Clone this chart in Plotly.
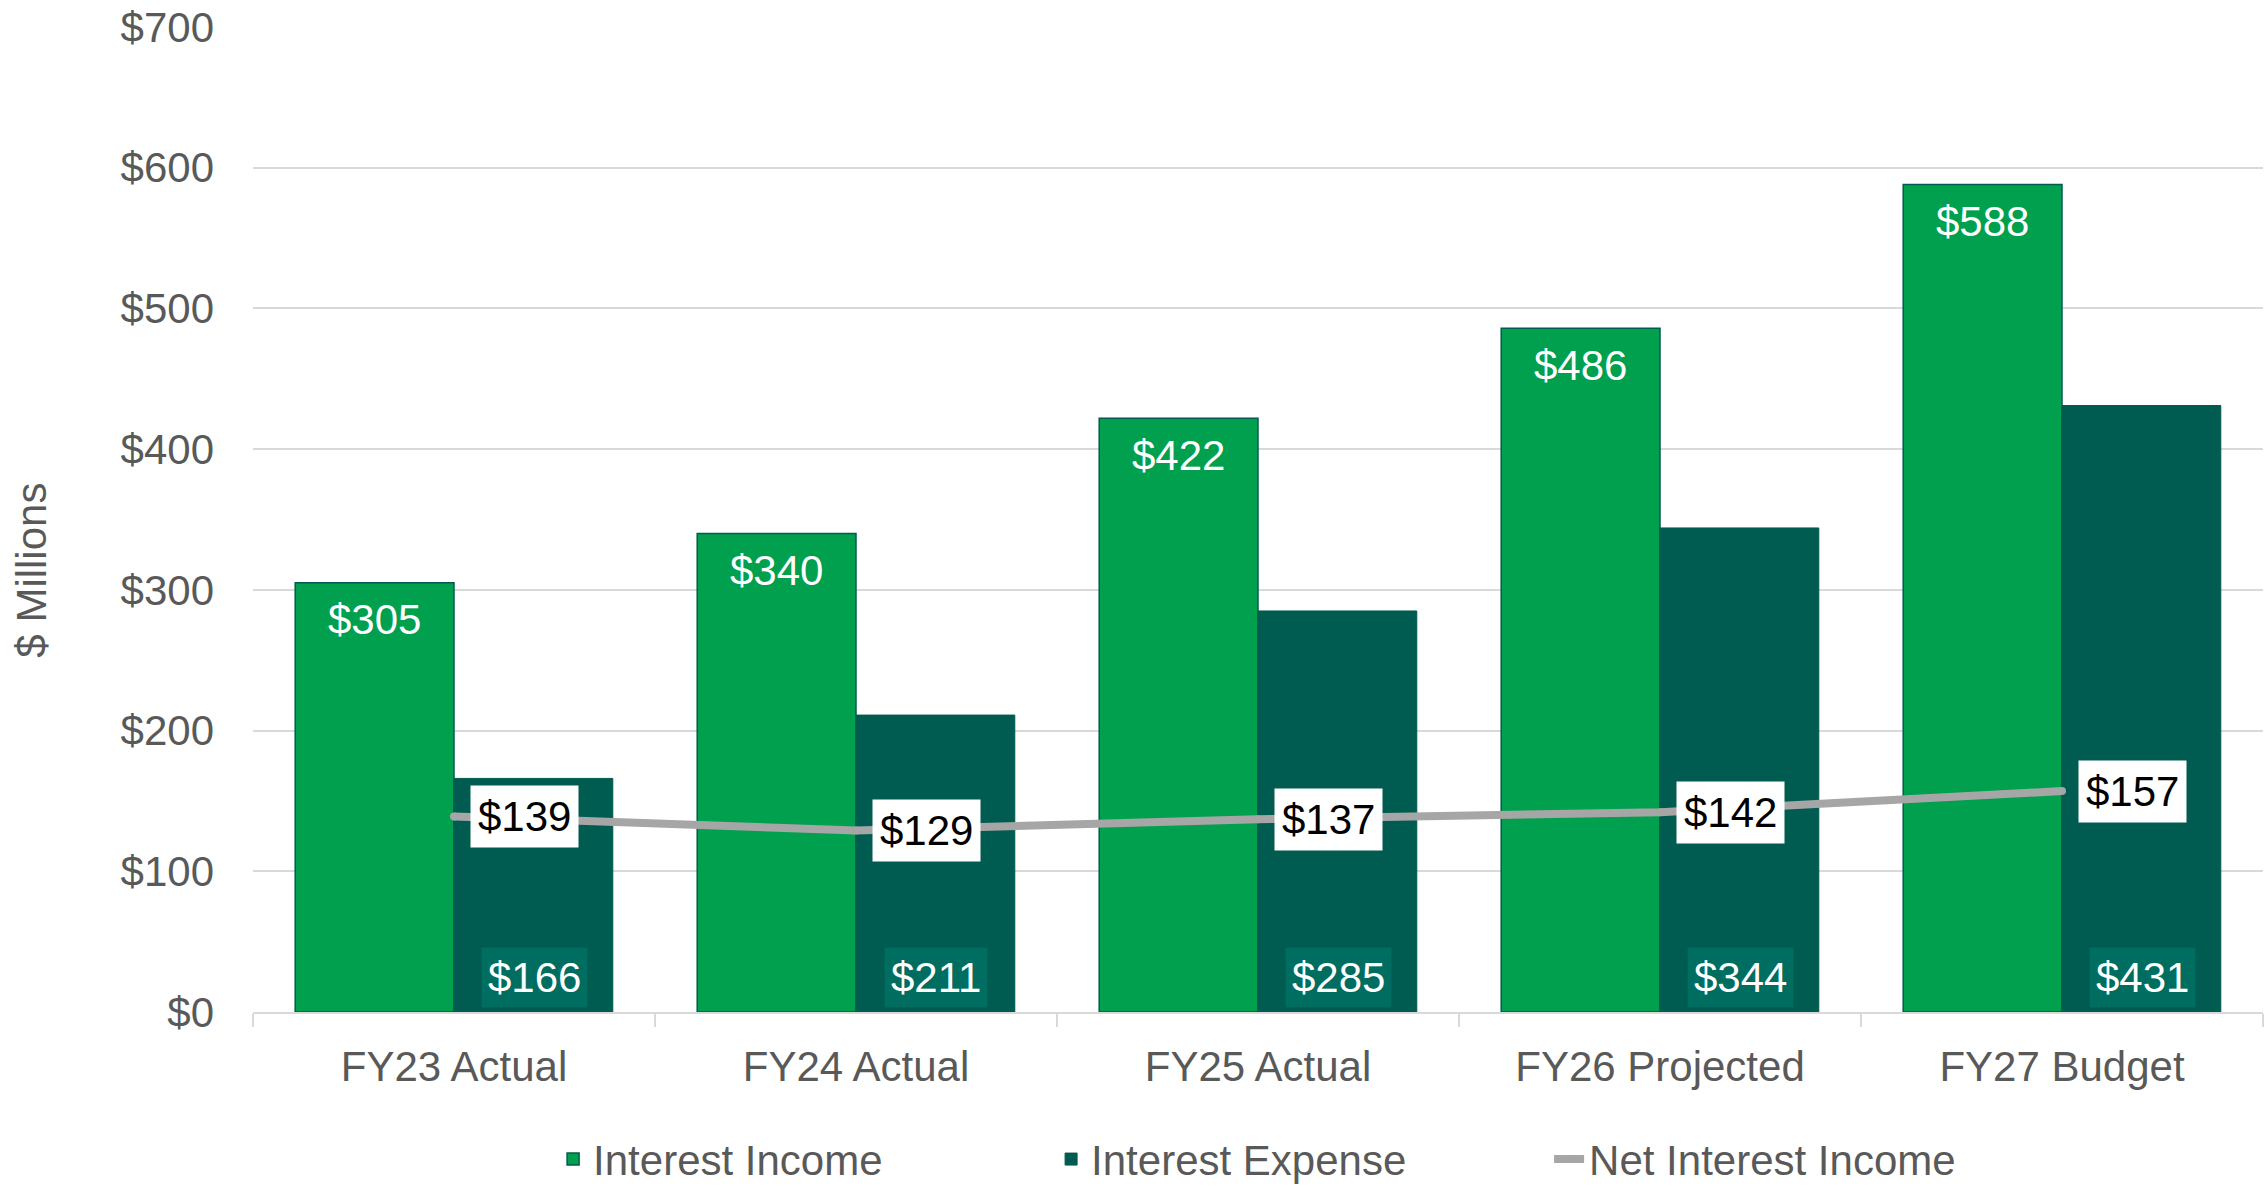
import plotly.graph_objects as go

categories = ["FY23 Actual", "FY24 Actual", "FY25 Actual", "FY26 Projected", "FY27 Budget"]
interest_income = [305, 340, 422, 486, 588]
interest_expense = [166, 211, 285, 344, 431]
net_interest_income = [139, 129, 137, 142, 157]

FONT = "Liberation Sans, Arial, sans-serif"
C_INC = "#00A04F"
C_EXP = "#005B50"
C_EXP_LBL = "#006D61"
C_NET = "#A6A6A6"
GRAY_TXT = "#595959"
GRID = "#D9D9D9"

fig = go.Figure()
fig.add_trace(go.Bar(
    x=categories, y=interest_income, name="Interest Income",
    marker=dict(color=C_INC, line=dict(color=C_EXP, width=1.5)),
))
fig.add_trace(go.Bar(
    x=categories, y=interest_expense, name="Interest Expense",
    marker=dict(color=C_EXP, line=dict(color=C_EXP, width=1)),
))
fig.add_trace(go.Scatter(
    x=categories, y=net_interest_income, name="Net Interest Income",
    mode="lines+markers", line=dict(color=C_NET, width=8),
    marker=dict(color=C_NET, size=8),
))

annotations = []
for c, v in zip(categories, interest_income):
    annotations.append(dict(
        x=c, y=v, xref="x", yref="y", text=f"${v}", showarrow=False,
        xshift=-80, yanchor="middle", yshift=-37,
        font=dict(family=FONT, size=42, color="white"),
    ))
for c, v in zip(categories, interest_expense):
    annotations.append(dict(
        x=c, y=0, xref="x", yref="y", text=f"${v}", showarrow=False,
        xshift=80, yanchor="bottom", yshift=4, bgcolor=C_EXP_LBL, borderpad=6,
        font=dict(family=FONT, size=42, color="white"),
    ))
for c, v in zip(categories, net_interest_income):
    annotations.append(dict(
        x=c, y=v, xref="x", yref="y", text=f"${v}", showarrow=False,
        xshift=70, yanchor="middle", bgcolor="white", borderpad=7,
        font=dict(family=FONT, size=42, color="black"),
    ))
# y-axis title, centred on the chart area like the reference
annotations.append(dict(
    x=-0.11, y=0.449, xref="paper", yref="paper", text="$ Millions", showarrow=False,
    textangle=-90, xanchor="center", yanchor="middle",
    font=dict(family=FONT, size=42, color=GRAY_TXT),
))

fig.update_layout(
    width=2267, height=1186,
    margin=dict(l=253, r=4, t=27, b=174, autoexpand=False),
    paper_bgcolor="white", plot_bgcolor="white",
    barmode="group", bargap=0.21, bargroupgap=0,
    font=dict(family=FONT, size=42, color=GRAY_TXT),
    showlegend=True,
    legend=dict(orientation="h", x=0.1493, xanchor="left", y=-0.115, yanchor="top",
                font=dict(family=FONT, size=42, color=GRAY_TXT),
                entrywidth=453, entrywidthmode="pixels", traceorder="normal"),
    annotations=annotations,
    xaxis=dict(
        showline=True, linecolor=GRID, linewidth=2,
        ticks="outside", tickson="boundaries", ticklen=13, tickcolor=GRID, tickwidth=2,
        tickfont=dict(family=FONT, size=42, color=GRAY_TXT),
        ticklabelstandoff=17,
        showgrid=False, automargin=False,
    ),
    yaxis=dict(
        range=[0, 700], dtick=100, tickprefix="$",
        showgrid=True, gridcolor=GRID, gridwidth=2, zeroline=False,
        tickfont=dict(family=FONT, size=42, color=GRAY_TXT),
        ticklabelstandoff=38, automargin=False,
    ),
)

fig.write_html("out.html", config={"displayModeBar": False},
               post_script="document.body.style.margin='0';document.body.style.overflow='hidden';")
